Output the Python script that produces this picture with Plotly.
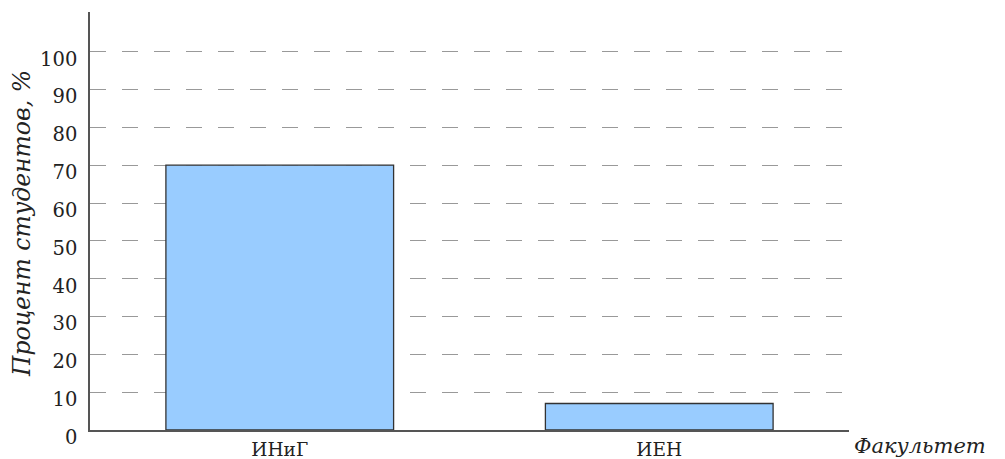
import plotly.graph_objects as go

categories = ["ИНиГ", "ИЕН"]
values = [70, 7]
y_ticks = [0, 10, 20, 30, 40, 50, 60, 70, 80, 90, 100]

FONT = "DejaVu Serif"
TXT = "#222222"

# page body has an 8px margin, so the figure is drawn offset by (8, 8)
OFF = 8
W, H = 1005 - OFF, 459 - OFF
L, R, T, B = 90 - OFF, 156, 12 - OFF, 29
PW = W - L - R

fig = go.Figure()
fig.add_trace(go.Bar(
    x=categories, y=values,
    marker=dict(color="#99ccff", line=dict(color="#333333", width=1.3)),
    width=0.6,
))

fig.update_layout(
    width=W, height=H,
    margin=dict(l=L, r=R, t=T, b=B, autoexpand=False),
    paper_bgcolor="white", plot_bgcolor="white",
    font=dict(family=FONT, size=19, color=TXT),
    showlegend=False,
    xaxis=dict(
        range=[-0.5, 1.5], showline=True, linecolor="#555555", linewidth=1.5,
        ticks="", showgrid=False, zeroline=False, automargin=False,
        ticklabelstandoff=2,
        tickfont=dict(family=FONT, size=18.5, color=TXT),
    ),
    yaxis=dict(
        range=[0, 110.5], tickvals=y_ticks, ticktext=[str(v) for v in y_ticks],
        showline=True, linecolor="#555555", linewidth=1.5, ticks="",
        showgrid=True, gridcolor="#999999", gridwidth=1.2, griddash="16px,16px",
        zeroline=False, automargin=False,
        ticklabelstandoff=7, ticklabelshift=7,
        tickfont=dict(family=FONT, size=19.5, color=TXT),
    ),
    annotations=[
        dict(
            text="<i>Факультет</i>", x=1, xref="paper", y=0, yref="paper",
            xanchor="left", yanchor="top", xshift=3, yshift=-2, showarrow=False,
            font=dict(family=FONT, size=21, color=TXT),
        ),
        dict(
            text="<i>Процент студентов, %</i>", x=(22 - OFF - L) / PW, xref="paper",
            y=0.5, yref="paper", xanchor="center", yanchor="middle",
            textangle=-90, showarrow=False, yshift=-3,
            font=dict(family=FONT, size=23.5, color=TXT),
        ),
    ],
)

fig.write_html("out.html")
